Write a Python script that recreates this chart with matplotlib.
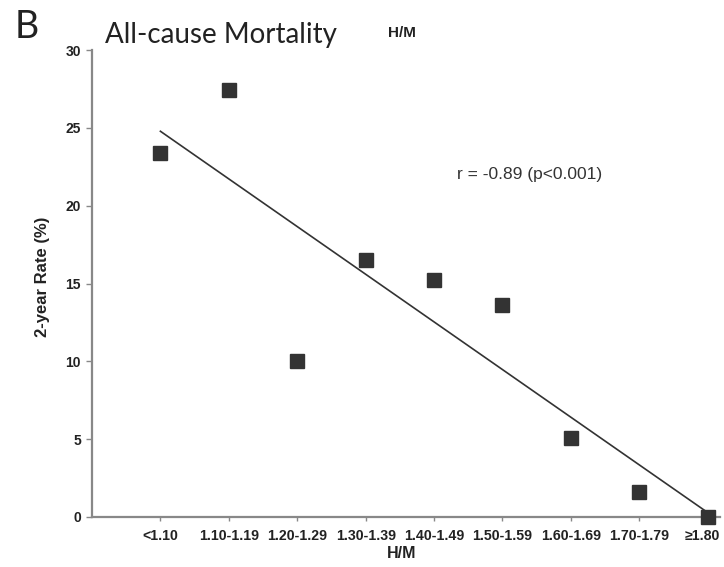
import numpy as np
import matplotlib
matplotlib.use("Agg")
import matplotlib.pyplot as plt
from matplotlib.transforms import ScaledTranslation

categories = ["<1.10", "1.10-1.19", "1.20-1.29", "1.30-1.39", "1.40-1.49",
              "1.50-1.59", "1.60-1.69", "1.70-1.79", "\u22651.80"]
rates = [23.4, 27.4, 10.0, 16.5, 15.2, 13.6, 5.1, 1.6, 0.0]
y_ticks = [0, 5, 10, 15, 20, 25, 30]

fig = plt.figure(figsize=(7.24, 5.67), dpi=100)
ax = fig.add_axes([92/724, 1-517/567, (720-92)/724, (517-50)/567])

x = np.arange(len(categories))
slope, intercept = np.polyfit(x, rates, 1)
ax.plot([x[0], x[-1]], [intercept + slope*x[0], intercept + slope*x[-1]],
        color="#333333", lw=1.2, zorder=2)
ax.plot(x, rates, linestyle="none", marker="s", markersize=10.5,
        color="#333333", markeredgecolor="#333333", zorder=3, clip_on=False)

ax.set_xlim(-1, 8.18)
ax.set_ylim(0, 30)
ax.set_xticks(x)
ax.set_xticklabels(categories, fontsize=10.2, fontweight="bold",
                   family="Liberation Sans", color="#222222")
ax.set_yticks(y_ticks)
ax.set_yticklabels([str(v) for v in y_ticks], fontsize=10, fontweight="bold",
                   family="Liberation Sans", color="#222222")
ax.tick_params(axis="x", length=3, width=1, color="#888888", pad=6)
ax.tick_params(axis="y", length=4, width=1, color="#888888", pad=4)
for s in ["top", "right"]:
    ax.spines[s].set_visible(False)
for s in ["left", "bottom"]:
    ax.spines[s].set_color("#888888")
    ax.spines[s].set_linewidth(1.6)

last = ax.get_xticklabels()[-1]
last.set_transform(last.get_transform() + ScaledTranslation(-5/100, 0, fig.dpi_scale_trans))

ax.set_ylabel("2-year Rate (%)", fontsize=12, fontweight="bold",
              family="Liberation Sans", color="#222222")
ax.yaxis.set_label_coords(43/724, 1-277/567, transform=fig.transFigure)
ax.yaxis.label.set_va("center")
ax.set_xlabel("H/M", fontsize=11.5, fontweight="bold",
              family="Liberation Sans", color="#222222")
ax.xaxis.set_label_coords(402/724, 1-553/567, transform=fig.transFigure)
ax.xaxis.label.set_va("center")

fig.text(15/724, 1-27/567, "B", fontsize=27, family="Lato", color="#222222",
         va="center", ha="left")
fig.text(105/724, 1-35/567, "All-cause Mortality", fontsize=20, family="Lato",
         color="#222222", va="center", ha="left")
fig.text(388/724, 1-33/567, "H/M", fontsize=11, fontweight="bold",
         family="Liberation Sans", color="#222222", va="center", ha="left")
fig.text(457/724, 1-175/567, "r = -0.89 (p<0.001)", fontsize=12.5,
         family="Liberation Sans", color="#333333", va="center", ha="left")

fig.savefig("out.png", dpi=100)
